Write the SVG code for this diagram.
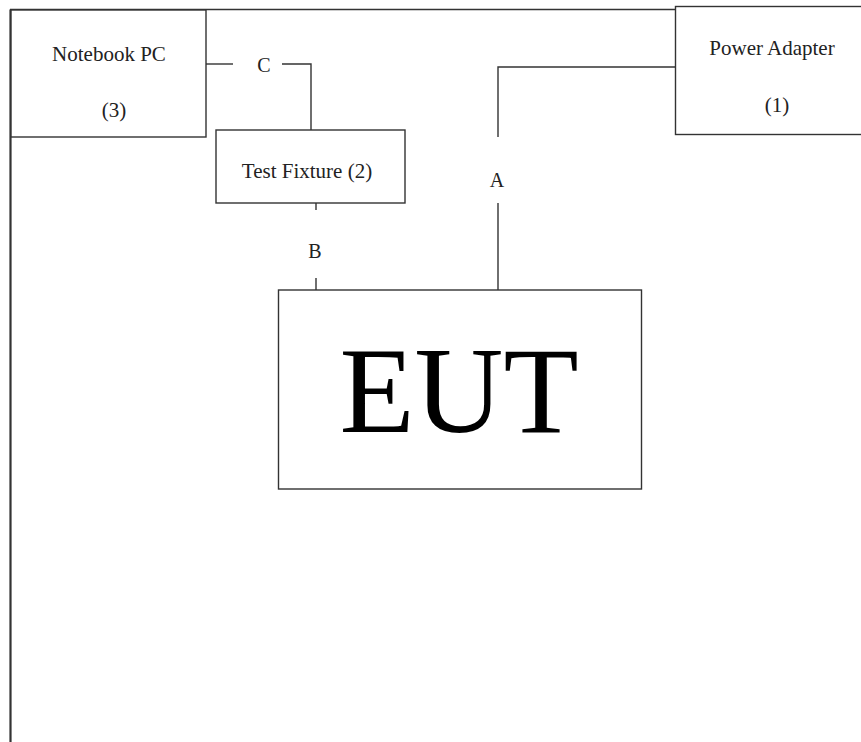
<svg xmlns="http://www.w3.org/2000/svg" width="861" height="742" viewBox="0 0 861 742">
<style>
.box{fill:#fff;stroke:#333;stroke-width:1.4}
.ln{fill:none;stroke:#333;stroke-width:1.4}
.t{font-family:"Liberation Serif","Times New Roman",serif;fill:#222;text-anchor:middle}
.s{font-size:21px}
.l{font-size:20px}
.big{font-size:123px;fill:#000}
</style>
<rect width="861" height="742" fill="#fff"/>
<g id="frame">
<path class="ln" d="M10,9.5 H676"/>
<path d="M10.5,9.5 V742" fill="none" stroke="#333" stroke-width="2.2"/>
</g>
<g id="connectors">
<path class="ln" d="M206,64 H233"/>
<path class="ln" d="M282,64 H311 V130"/>
<path class="ln" d="M316,203 V210"/>
<path class="ln" d="M316,278 V290"/>
<path class="ln" d="M676,67 H498 V137"/>
<path class="ln" d="M498,203 V290"/>
<text class="t l" x="264" y="72">C</text>
<text class="t l" x="315" y="258">B</text>
<text class="t l" x="497" y="187">A</text>
</g>
<g id="notebook">
<rect class="box" x="11" y="10" width="195" height="127"/>
<text class="t s" x="109" y="61">Notebook PC</text>
<text class="t s" x="114" y="117">(3)</text>
</g>
<g id="fixture">
<rect class="box" x="216" y="130" width="189" height="73"/>
<text class="t s" x="307" y="178">Test Fixture (2)</text>
</g>
<g id="adapter">
<rect class="box" x="675.5" y="6.5" width="200" height="128"/>
<text class="t s" x="772" y="55">Power Adapter</text>
<text class="t s" x="777" y="112">(1)</text>
</g>
<g id="eut">
<rect class="box" x="278.5" y="290" width="363" height="199"/>
<text class="t big" x="459" y="432">EUT</text>
</g>
</svg>
